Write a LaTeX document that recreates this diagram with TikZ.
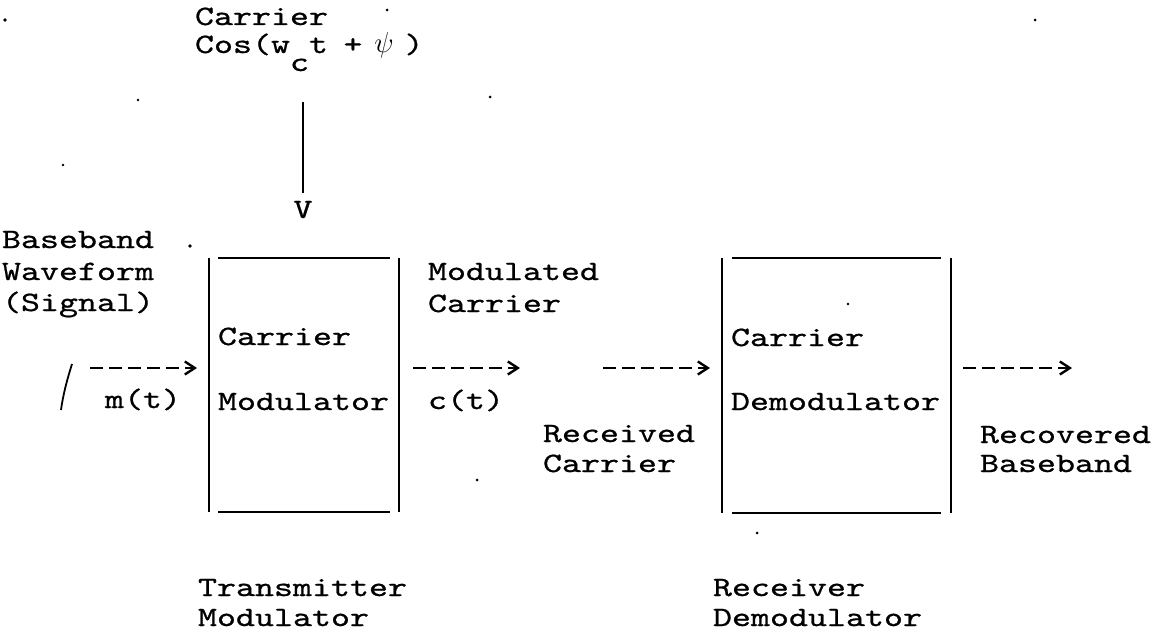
\documentclass[tikz,border=0pt]{standalone}
\usepackage{fontspec}
\newfontfamily\mono[FakeStretch=1.2925,FakeBold=0.8]{lmmono10-regular.otf}
\usetikzlibrary{arrows.meta,calc}
\begin{document}
\begin{tikzpicture}[x=0.5pt,y=-0.5pt,
  txt/.style={anchor=base west,inner sep=0pt,outer sep=0pt,font=\mono\fontsize{14}{16}\selectfont},
  boxarea/.style={draw=none,inner sep=0pt,outer sep=0pt},
  rule/.style={line width=1.3pt},
  flow/.style={line width=1.2pt,dash pattern=on 6.5pt off 3pt,-{Straight Barb[length=5pt,width=6.5pt]}},
  speck/.style={fill=black,draw=none}]
\useasboundingbox (0,0) rectangle (1161,631);

% carrier input
\node[txt] (carrier) at (195,25) {Carrier};
\node[txt] (cos) at (195,53) {Cos(w\raisebox{-9pt}{c}t\hspace{7.75pt}+\hspace{6pt}\makebox[9.5pt]{\fontsize{14}{16}\selectfont$\psi$}\hspace{5.5pt})};
\node[txt,anchor=base] (V) at (303,218) {V};
\draw[rule,line width=1pt,shorten <=15.5pt,shorten >=4pt] (cos.south -| V.north) -- (V.north);

% left labels
\node[txt] (bb) at (2,248) {Baseband};
\node[txt] (wf) at (2,280) {Waveform};
\node[txt] (sig) at (2,311) {(Signal)};
\node[txt] (mt) at (105,408) {m(t)};

% modulator box
\node[boxarea,minimum width=95pt,minimum height=127pt] (mod) at (304,385) {};
\draw[rule] (mod.north west) -- (mod.south west);
\draw[rule] (mod.north east) -- (mod.south east);
\draw[rule] ($(mod.north west)+(9,0)$) -- ($(mod.north east)+(-9,0)$);
\draw[rule] ($(mod.south west)+(9,0)$) -- ($(mod.south east)+(-9,0)$);
\node[txt] (modc) at (218,345) {Carrier};
\node[txt] (modm) at (218,410) {Modulator};

% modulated carrier labels
\node[txt] (mc1) at (428,280) {Modulated};
\node[txt] (mc2) at (428,312) {Carrier};
\node[txt] (ct) at (428,409) {c(t)};
\node[txt] (rc1) at (543,442) {Received};
\node[txt] (rc2) at (543,472) {Carrier};

% demodulator box
\node[boxarea,minimum width=114.5pt,minimum height=127.5pt] (demod) at (836.5,385.5) {};
\draw[rule] (demod.north west) -- (demod.south west);
\draw[rule] (demod.north east) -- (demod.south east);
\draw[rule] ($(demod.north west)+(10,0)$) -- ($(demod.north east)+(-10,0)$);
\draw[rule] ($(demod.south west)+(10,0)$) -- ($(demod.south east)+(-10,0)$);
\node[txt] (demc) at (731,346) {Carrier};
\node[txt] (demd) at (731,410) {Demodulator};

% recovered
\node[txt] (rb1) at (980,443) {Recovered};
\node[txt] (rb2) at (980,472) {Baseband};

% bottom captions
\node[txt] (tm1) at (198,596) {Transmitter};
\node[txt] (tm2) at (198,626) {Modulator};
\node[txt] (rd1) at (713,596) {Receiver};
\node[txt] (rd2) at (713,626) {Demodulator};

% arrows
\coordinate (a1) at (90,368);
\coordinate (a2) at (520,368);
\coordinate (a3) at (603,368);
\coordinate (a4) at (1072,368);
\draw[flow,shorten >=6pt] (a1) -- (a1 -| mod.west);
\draw[flow,shorten <=7pt] (a1 -| mod.east) -- (a2);
\draw[flow,shorten >=6pt] (a3) -- (a3 -| demod.west);
\draw[flow,shorten <=6pt] (a3 -| demod.east) -- (a4);

% hand mark
\draw[line width=0.9pt] (72,364) .. controls (67,380) and (63,395) .. (61,410);

% specks
\fill[speck] (5,20) circle (1.8);
\fill[speck] (190,246) circle (1.8);
\fill[speck] (63,165) circle (1.3);
\fill[speck] (138,100) circle (1.3);
\fill[speck] (490,97) circle (1.5);
\fill[speck] (387,10) circle (1.5);
\fill[speck] (477,480) circle (1.5);
\fill[speck] (757,533) circle (1.5);
\fill[speck] (848,304) circle (1.3);
\fill[speck] (1035,20) circle (1.5);
\end{tikzpicture}
\end{document}
